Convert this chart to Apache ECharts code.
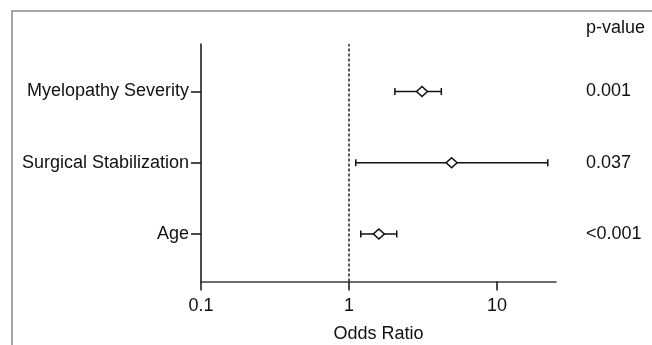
<!DOCTYPE html>
<html>
<head>
<meta charset="utf-8">
<script src="https://cdn.jsdelivr.net/npm/echarts@6/dist/echarts.min.js"></script>
<style>
html,body{margin:0;padding:0;background:#fff;}
#chart{width:652px;height:345px;}
</style>
</head>
<body>
<div id="chart"></div>
<script>
// Rows from bottom (y=1) to top (y=3)
const categories = ['Age', 'Surgical Stabilization', 'Myelopathy Severity'];
const rowPositions = [1, 2, 3];
const oddsRatio = [1.59, 4.93, 3.11];
const ciLow = [1.20, 1.11, 2.04];
const ciHigh = [2.10, 22.0, 4.20];
const pValues = ['<0.001', '0.037', '0.001'];
const xTicks = [0.1, 1, 10];
const refLine = 1;

const FONT = 'Liberation Sans';
const INK = '#111';

const chart = echarts.init(document.getElementById('chart'), null, {renderer: 'canvas'});

const pointData = oddsRatio.map((v, i) => [v, rowPositions[i]]);
const ciData = ciLow.map((lo, i) => [lo, ciHigh[i], rowPositions[i]]);

chart.setOption({
  animation: false,
  backgroundColor: '#fff',
  title: {
    text: 'p-value',
    left: 581,
    top: 14,
    textStyle: {fontFamily: FONT, fontSize: 18, fontWeight: 'normal', color: INK}
  },
  graphic: [{
    type: 'rect',
    shape: {x: 12, y: 11, width: 700, height: 400},
    style: {fill: 'none', stroke: '#8a8a8a', lineWidth: 1.5},
    silent: true
  }],
  grid: {left: 201, right: 96, top: 44, bottom: 63.5, containLabel: false, outerBoundsMode: 'none'},
  xAxis: {
    type: 'log',
    logBase: 10,
    min: 0.1,
    max: 25,
    name: 'Odds Ratio',
    nameLocation: 'middle',
    nameGap: 44,
    nameTextStyle: {fontFamily: FONT, fontSize: 18, color: INK},
    axisLine: {lineStyle: {color: '#3c3c3c', width: 1.5}},
    axisTick: {show: true, length: 9, lineStyle: {color: INK, width: 1.5}, customValues: xTicks},
    axisLabel: {customValues: xTicks, fontFamily: FONT, fontSize: 18, color: INK, margin: 16,
      formatter: v => String(v)},
    splitLine: {show: false}
  },
  yAxis: [{
    type: 'value',
    min: 1 / 3,
    max: 11 / 3,
    position: 'left',
    axisLine: {show: true, lineStyle: {color: INK, width: 1.5}},
    axisTick: {show: true, length: 10, lineStyle: {color: INK, width: 1.5}, customValues: rowPositions},
    axisLabel: {customValues: rowPositions, fontFamily: FONT, fontSize: 18, color: INK, margin: 12,
      formatter: v => categories[rowPositions.indexOf(Math.round(v))] || ''},
    splitLine: {show: false}
  }, {
    type: 'value',
    min: 1 / 3,
    max: 11 / 3,
    position: 'right',
    axisLine: {show: false},
    axisTick: {show: false},
    axisLabel: {customValues: rowPositions, fontFamily: FONT, fontSize: 18, color: INK, margin: 30,
      formatter: v => pValues[rowPositions.indexOf(Math.round(v))] || ''},
    splitLine: {show: false}
  }],
  series: [{
    type: 'custom',
    data: ciData,
    encode: {x: [0, 1], y: 2},
    z: 3,
    renderItem: function (params, api) {
      const y = api.value(2);
      const p1 = api.coord([api.value(0), y]);
      const p2 = api.coord([api.value(1), y]);
      const h = 3.5;
      const st = {stroke: INK, lineWidth: 1.5};
      return {
        type: 'group',
        children: [
          {type: 'line', shape: {x1: p1[0], y1: p1[1], x2: p2[0], y2: p2[1]}, style: st},
          {type: 'line', shape: {x1: p1[0], y1: p1[1] - h, x2: p1[0], y2: p1[1] + h}, style: st},
          {type: 'line', shape: {x1: p2[0], y1: p2[1] - h, x2: p2[0], y2: p2[1] + h}, style: st}
        ]
      };
    }
  }, {
    type: 'scatter',
    data: pointData,
    symbol: 'diamond',
    symbolSize: [11, 10],
    z: 5,
    itemStyle: {color: '#fff', borderColor: INK, borderWidth: 1.5, opacity: 1},
    markLine: {
      silent: true,
      symbol: 'none',
      label: {show: false},
      lineStyle: {type: [3, 2], color: '#222', width: 1.5},
      data: [{xAxis: refLine}]
    }
  }]
});
</script>
</body>
</html>
